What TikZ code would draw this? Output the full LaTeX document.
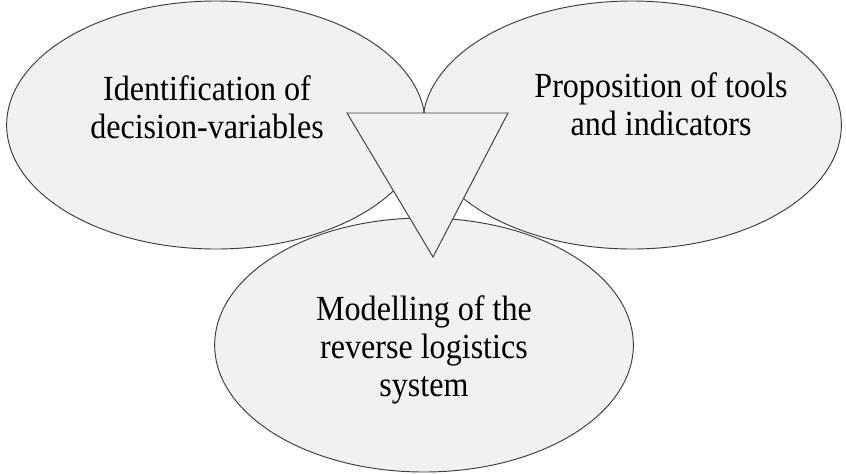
\documentclass[tikz,border=0pt]{standalone}
\usepackage{fontspec}
\usepackage{tikz}
\usetikzlibrary{positioning,shapes.geometric}
\newfontfamily\bubblefont{Liberation Serif}[FakeStretch=0.91]
\definecolor{rlfill}{HTML}{F1F1F1}
\definecolor{rlline}{HTML}{3C3C3C}
\tikzset{
  bubblefill/.style={fill=rlfill},
  bubblerim/.style ={draw=rlline, line width=0.8pt},
  funnel/.style    ={fill=rlfill, draw=rlline, line width=0.8pt, line join=miter},
  bubbletext/.style={align=center, inner sep=0pt,
                     font=\bubblefont\fontsize{30.1}{32.4}\selectfont},
}

\begin{document}
\begin{tikzpicture}[x=0.03cm,y=-0.03cm]
    \fill[white] (0,0) rectangle (846,473);
    \useasboundingbox (0,0) rectangle (846,473);
    \coordinate (ident) at (216,125);
    \coordinate (propo) at (632,125);
    \coordinate (model) at (424,345);
    % fills first, rims after, so every overlap keeps both outlines
    \foreach \p/\ry in {ident/3.72cm,propo/3.72cm,model/3.81cm}
      \fill[bubblefill] (\p) ellipse [x radius=6.28cm, y radius=\ry];
    \foreach \p/\ry in {ident/3.72cm,propo/3.72cm,model/3.81cm}
      \draw[bubblerim] (\p) ellipse [x radius=6.28cm, y radius=\ry];
    \coordinate (fl) at (347,113);
    \coordinate (fr) at (508,113);
    \coordinate (fa) at (433,257);
    \draw[funnel] (fl) -- (fr) -- (fa) -- cycle;
    \node[bubbletext] (identtxt) at (207,107) {Identification of\\decision-variables};
    \node[bubbletext] (propotxt) at (661,104.5) {Proposition of tools\\and indicators};
    \node[bubbletext] (modeltxt) at (424,350) {Modelling of the\\reverse logistics\\system};
\end{tikzpicture}
\end{document}
